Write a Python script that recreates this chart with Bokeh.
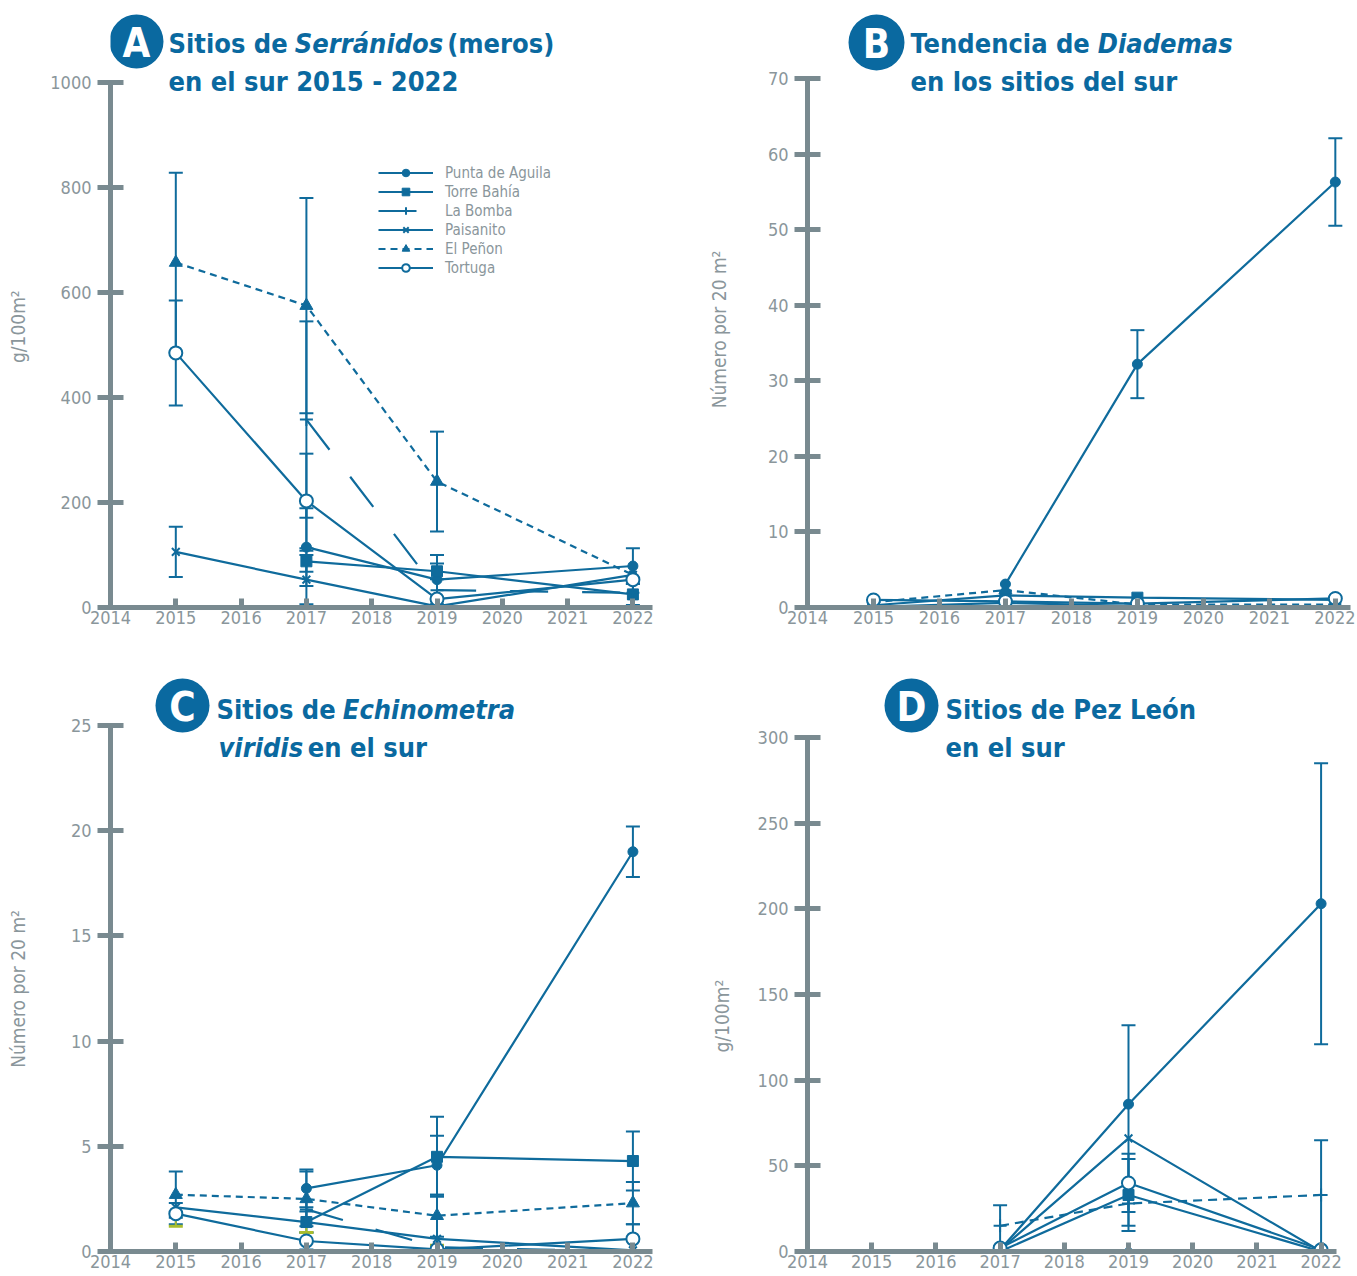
import math
from bokeh.plotting import figure
from bokeh.models import (Range1d, FixedTicker, Label, BoxAnnotation, Whisker, TeeHead,
                          ColumnDataSource, Legend, LegendItem)
from bokeh.layouts import column, row
from bokeh.embed import file_html
from bokeh.resources import INLINE

nan = float("nan")

# ---------------- data ----------------
years = [2015, 2017, 2019, 2022]
x_ticks = [2014, 2015, 2016, 2017, 2018, 2019, 2020, 2021, 2022]
sites = ["Punta de Aguila", "Torre Bahía", "La Bomba", "Paisanito", "El Peñon", "Tortuga"]

# Panel A : Serránidos (g/100m2)
a_punta = [nan, 115, 53, 79]
a_torre = [nan, 88, 69, 25]
a_bomba = [nan, 358, 33, 28]
a_paisa = [106, 53, 2, 62]
a_penon = [657, 575, 240, 62]
a_tortu = [485, 203, 16, 53]
a_punta_err = [nan, 74, 47, 34]
a_torre_err = [nan, 20, 15, 20]
a_bomba_err = [nan, 187, 0, 0]
a_paisa_err = [48, 47, 0, 0]
a_penon_err = [171, 205, 95, 0]
a_tortu_err = [100, 90, 0, 0]
a_yticks = [0, 200, 400, 600, 800, 1000]

# Panel B : Diademas (número por 20 m2)
b_punta = [nan, 3.1, 32.2, 56.3]
b_torre = [0.3, 1.6, 1.3, 1.0]
b_bomba = [nan, nan, nan, nan]
b_paisa = [0.1, 0.6, 0.2, 0.1]
b_penon = [0.7, 2.3, 0.4, 0.4]
b_tortu = [1.0, 0.8, 0.5, 1.2]
b_punta_err = [nan, 0, 4.5, 5.8]
b_yticks = [0, 10, 20, 30, 40, 50, 60, 70]

# Panel C : Echinometra viridis (número por 20 m2)
c_punta = [nan, 3.0, 4.1, 19.0]
c_torre = [nan, 1.4, 4.5, 4.3]
c_bomba = [nan, 2.0, 0.2, 0.0]
c_paisa = [2.1, 1.4, 0.6, 0.05]
c_penon = [2.7, 2.5, 1.7, 2.3]
c_tortu = [1.8, 0.5, 0.1, 0.6]
c_punta_err = [nan, 0.9, 1.4, 1.2]
c_torre_err = [nan, 0.5, 1.9, 1.4]
c_paisa_err = [0.9, 0.5, 0.3, 0]
c_penon_err = [1.1, 1.3, 1.0, 1.0]
c_tortu_err = [0.5, 0.4, 0.2, 0.7]
c_yticks = [0, 5, 10, 15, 20, 25]

# Panel D : Pez León (g/100m2)
d_punta = [nan, 1, 86, 203]
d_torre = [nan, 0, 33, 0]
d_bomba = [nan, 15, 28, 33]
d_paisa = [nan, 1, 66, 0]
d_penon = [nan, 0, 0, 0]
d_tortu = [nan, 2, 40, 1]
d_punta_err = [nan, 0, 46, 82]
d_torre_err = [nan, 0, 21, 0]
d_bomba_err = [nan, 12, 13, 32]
d_tortu_err = [nan, 0, 17, 0]
d_yticks = [0, 50, 100, 150, 200, 250, 300]

# ---------------- style ----------------
BLUE = "#0a69a0"
LINE = "#0f6b9c"
AXIS = "#798a90"
TICKTXT = "#8a969b"
GREEN = "#a9bd2d"
FONT = "'Liberation Sans Narrow', 'DejaVu Sans Condensed', Roboto, sans-serif"
TSIZE = 27
K = TSIZE / 24.8   # horizontal scale of the title font relative to the reference
NB = "\u00a0"

STYLE = {
    "Punta de Aguila": dict(marker="circle", size=10, fill=LINE, dash="solid"),
    "Torre Bahía": dict(marker="square", size=11, fill=LINE, dash="solid"),
    "La Bomba": dict(marker="cross", size=13, fill=LINE, dash="38 34"),
    "Paisanito": dict(marker="x", size=11, fill=LINE, dash="solid"),
    "El Peñon": dict(marker="triangle", size=13, fill=LINE, dash="7 5"),
    "Tortuga": dict(marker="circle", size=13, fill="white", dash="solid"),
}


def finite(v):
    return v is not None and not (isinstance(v, float) and math.isnan(v))


def make_fig(fx0, fy0, fw, fh, fl, ft, fr, fb, axis_top, x_end, yticks, ylabel, ystandoff):
    ymax = yticks[-1]
    y_end = ymax * (fb - ft) / (fb - axis_top)
    p = figure(width=fw, height=fh, output_backend="svg", toolbar_location=None,
               x_range=Range1d(2014, x_end), y_range=Range1d(0, y_end),
               min_border_left=fl - fx0, min_border_right=fx0 + fw - fr,
               min_border_top=ft - fy0, min_border_bottom=fy0 + fh - fb)
    p.outline_line_color = None
    p.xgrid.visible = False
    p.ygrid.visible = False
    p.background_fill_color = "white"
    p.border_fill_color = "white"
    p.xaxis.ticker = FixedTicker(ticks=x_ticks)
    p.yaxis.ticker = FixedTicker(ticks=yticks)
    p.yaxis.bounds = (0, ymax)
    p.xaxis.formatter.use_scientific = False
    for ax in (p.xaxis, p.yaxis):
        ax.axis_line_color = AXIS
        ax.axis_line_width = 5
        ax.major_tick_line_color = AXIS
        ax.major_tick_line_width = 5
        ax.minor_tick_line_color = None
        ax.major_label_text_font = FONT
        ax.major_label_text_font_size = "18px"
        ax.major_label_text_color = TICKTXT
    p.xaxis.major_tick_in = 9
    p.xaxis.major_tick_out = 0
    p.xaxis.major_label_standoff = 3
    p.yaxis.major_tick_in = 13
    p.yaxis.major_tick_out = 13
    p.yaxis.major_label_standoff = 6
    p.yaxis.axis_label = ylabel
    p.yaxis.axis_label_text_font = FONT
    p.yaxis.axis_label_text_font_size = "19px"
    p.yaxis.axis_label_text_font_style = "normal"
    p.yaxis.axis_label_text_color = TICKTXT
    p.yaxis.axis_label_standoff = ystandoff
    p._frame = (fl, fb)
    return p


def slabel(p, x, y, text, size=f"{TSIZE}px", style="bold", color=BLUE, align="left",
           baseline="middle"):
    fl, fb = p._frame
    p.add_layout(Label(x=x - fl, y=fb - y, x_units="screen", y_units="screen",
                       text=text, text_font=FONT, text_font_size=size, text_font_style=style,
                       text_color=color, text_align=align, text_baseline=baseline))


def title_line(p, x0, y, parts):
    # parts: (reference x position, text, style); y = vertical centre of the line
    for xr, text, style in parts:
        slabel(p, x0 + (xr - x0) * K, y, text, style=style)


def badge(p, cx, cy, r, letter):
    fl, fb = p._frame
    p.add_layout(BoxAnnotation(left=cx - r - fl, right=cx + r - fl,
                               top=fb - (cy - r), bottom=fb - (cy + r),
                               left_units="screen", right_units="screen",
                               top_units="screen", bottom_units="screen",
                               fill_color=BLUE, fill_alpha=1.0, line_color=None,
                               border_radius=r))
    slabel(p, cx, cy + 1, letter, size="40px", style="bold", color="white",
           align="center", baseline="middle")


def draw(p, vals, errs, green_low=None):
    for site in sites:
        e = errs.get(site)
        if e is None:
            continue
        v = vals[site]
        xs, up, lo = [], [], []
        for yr, a, b in zip(years, v, e):
            if finite(a) and finite(b) and b > 0:
                xs.append(yr); up.append(a + b); lo.append(max(a - b, 0))
        if xs:
            src = ColumnDataSource(dict(x=xs, up=up, lo=lo))
            p.add_layout(Whisker(source=src, base="x", upper="up", lower="lo",
                                 dimension="height", line_color=LINE, line_width=2,
                                 upper_head=TeeHead(size=14, line_color=LINE, line_width=2),
                                 lower_head=TeeHead(size=14, line_color=LINE, line_width=2)))
    if green_low is not None:
        site, e = green_low
        v = vals[site]
        xs, up, lo = [], [], []
        for yr, a, b in zip(years, v, e):
            if finite(a) and finite(b) and b > 0:
                xs.append(yr); up.append(a); lo.append(a - b)
        src = ColumnDataSource(dict(x=xs, up=up, lo=lo))
        p.add_layout(Whisker(source=src, base="x", upper="up", lower="lo",
                             dimension="height", line_color=GREEN, line_width=2,
                             upper_head=None,
                             lower_head=TeeHead(size=14, line_color=GREEN, line_width=3)))
    rends = {}
    for site in sites:
        st = STYLE[site]
        dash = st["dash"]
        if site in vals.get("_dash", {}):
            dash = vals["_dash"][site]
        lr = p.line(years, vals[site], line_color=LINE, line_width=2.2, line_dash=dash)
        rends[site] = [lr]
    for site in sites:
        st = STYLE[site]
        sr = p.scatter(years, vals[site], marker=st["marker"], size=st["size"],
                       fill_color=st["fill"], line_color=LINE,
                       line_width=2 if st["fill"] == "white" or st["marker"] in ("cross", "x") else 1)
        rends[site].append(sr)
    return rends


# ---------------- panel A ----------------
pA = make_fig(0, 0, 690, 648, 110, 2, 652, 607, 82, 2022.30, a_yticks,
              "g/100m²" + NB * 8, 18)
rA = draw(pA,
          {"Punta de Aguila": a_punta, "Torre Bahía": a_torre, "La Bomba": a_bomba,
           "Paisanito": a_paisa, "El Peñon": a_penon, "Tortuga": a_tortu},
          {"Punta de Aguila": a_punta_err, "Torre Bahía": a_torre_err, "La Bomba": a_bomba_err,
           "Paisanito": a_paisa_err, "El Peñon": a_penon_err, "Tortuga": a_tortu_err})
legend = Legend(items=[LegendItem(label=s, renderers=rA[s]) for s in sites],
                location=(268, 330), border_line_color=None, background_fill_alpha=0,
                padding=0, margin=0, spacing=0, glyph_height=19, glyph_width=55,
                label_height=16, label_standoff=12, label_text_font=FONT,
                label_text_font_size="15px", label_text_color=TICKTXT)
pA.add_layout(legend)
badge(pA, 136, 41, 27, "A")
title_line(pA, 168, 43, [(168, "Sitios de", "bold"), (284, "Serránidos", "bold italic"),
                         (424, "(meros)", "bold")])
title_line(pA, 168, 81, [(168, "en el sur 2015 - 2022", "bold")])

# ---------------- panel B ----------------
pB = make_fig(690, 0, 665, 648, 807, 2, 1350, 607, 78, 2022.23, b_yticks,
              "Número por 20 m²" + NB * 9, 35)
draw(pB,
     {"Punta de Aguila": b_punta, "Torre Bahía": b_torre, "La Bomba": b_bomba,
      "Paisanito": b_paisa, "El Peñon": b_penon, "Tortuga": b_tortu},
     {"Punta de Aguila": b_punta_err})
badge(pB, 876, 42, 28, "B")
title_line(pB, 910, 43, [(910, "Tendencia de", "bold"), (1082, "Diademas", "bold italic")])
title_line(pB, 910, 81, [(910, "en los sitios del sur", "bold")])

# ---------------- panel C ----------------
pC = make_fig(0, 648, 690, 626, 110, 650, 652, 1251, 725, 2022.30, c_yticks,
              "Número por 20 m²" + NB * 14, 39)
draw(pC,
     {"Punta de Aguila": c_punta, "Torre Bahía": c_torre, "La Bomba": c_bomba,
      "Paisanito": c_paisa, "El Peñon": c_penon, "Tortuga": c_tortu},
     {"Punta de Aguila": c_punta_err, "Torre Bahía": c_torre_err,
      "El Peñon": c_penon_err, "Tortuga": c_tortu_err},
     green_low=("Paisanito", c_paisa_err))
badge(pC, 182, 705, 27, "C")
title_line(pC, 216, 709, [(216, "Sitios de", "bold"), (332, "Echinometra", "bold italic")])
title_line(pC, 218, 747, [(218, "viridis", "bold italic"), (300, "en el sur", "bold")])

# ---------------- panel D ----------------
pD = make_fig(690, 648, 665, 626, 807, 650, 1336, 1251, 737, 2022.24, d_yticks,
              "g/100m²" + NB * 24, 22)
draw(pD,
     {"Punta de Aguila": d_punta, "Torre Bahía": d_torre, "La Bomba": d_bomba,
      "Paisanito": d_paisa, "El Peñon": d_penon, "Tortuga": d_tortu,
      "_dash": {"La Bomba": "9 6"}},
     {"Punta de Aguila": d_punta_err, "Torre Bahía": d_torre_err,
      "La Bomba": d_bomba_err, "Tortuga": d_tortu_err})
badge(pD, 911, 705, 27, "D")
title_line(pD, 945, 709, [(945, "Sitios de Pez León", "bold")])
title_line(pD, 945, 747, [(945, "en el sur", "bold")])

layout = column(row(pA, pB), row(pC, pD))
open("out.html", "w").write(file_html(layout, INLINE))
